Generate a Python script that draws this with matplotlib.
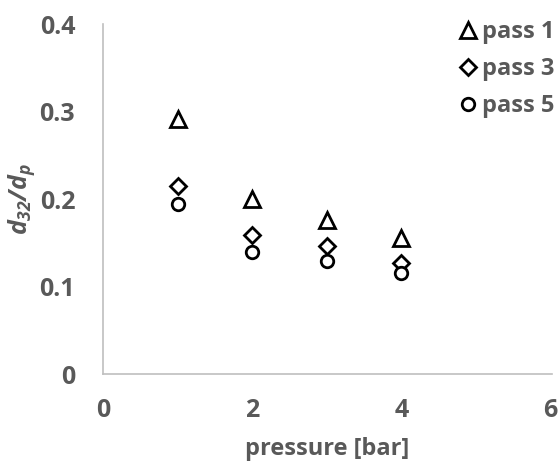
import matplotlib
matplotlib.use("Agg")
import matplotlib.pyplot as plt

plt.rcParams['font.family'] = ['Open Sans', 'DejaVu Sans']
plt.rcParams['mathtext.fontset'] = 'custom'
plt.rcParams['mathtext.it'] = 'Open Sans:italic:bold'
plt.rcParams['mathtext.rm'] = 'Open Sans:italic:bold'
plt.rcParams['mathtext.default'] = 'it'

pressure = [1, 2, 3, 4]
pass1 = [0.292, 0.200, 0.176, 0.155]
pass3 = [0.215, 0.159, 0.146, 0.127]
pass5 = [0.194, 0.139, 0.129, 0.115]

grey = '#595959'

fig = plt.figure(figsize=(5.6, 4.61), dpi=100)
ax = fig.add_axes([103 / 560, 1 - 374 / 461, 449 / 560, 350 / 461])

mk = dict(linestyle='none', markerfacecolor='white', markeredgecolor='black',
          markeredgewidth=2, clip_on=False)
ax.plot(pressure, pass1, marker='^', markersize=11, label='pass 1', **mk)
ax.plot(pressure, pass3, marker='D', markersize=8, label='pass 3', **mk)
ax.plot(pressure, pass5, marker='o', markersize=9, label='pass 5', **mk)

ax.set_xlim(0, 6.02)
ax.set_ylim(0, 0.4)
ax.set_xticks([0, 2, 4, 6])
ax.set_yticks([0, 0.1, 0.2, 0.3, 0.4])
ax.set_yticklabels(['0', '0.1', '0.2', '0.3', '0.4'])

for side in ['top', 'right']:
    ax.spines[side].set_visible(False)
for side in ['left', 'bottom']:
    ax.spines[side].set_color('#bfbfbf')
    ax.spines[side].set_linewidth(1.2)
ax.tick_params(length=0, labelsize=18, labelcolor=grey)
ax.tick_params(axis='x', pad=17)
ax.tick_params(axis='y', pad=20)
for lab in ax.get_xticklabels() + ax.get_yticklabels():
    lab.set_fontweight('bold')

ax.set_xlabel('pressure [bar]', fontsize=17, fontweight='bold', color=grey, labelpad=10)
ax.set_ylabel(r'$d_{32}/d_p$', fontsize=18, color=grey, labelpad=2)

leg = ax.legend(loc='upper right', bbox_to_anchor=(555 / 560, 1 - 20 / 461),
                bbox_transform=fig.transFigure, frameon=False, fontsize=17,
                handlelength=0.6, handletextpad=0.3, labelspacing=0.55,
                borderaxespad=0, borderpad=0)
for t in leg.get_texts():
    t.set_color(grey)
    t.set_fontweight('bold')

fig.savefig('out.png', dpi=100)
